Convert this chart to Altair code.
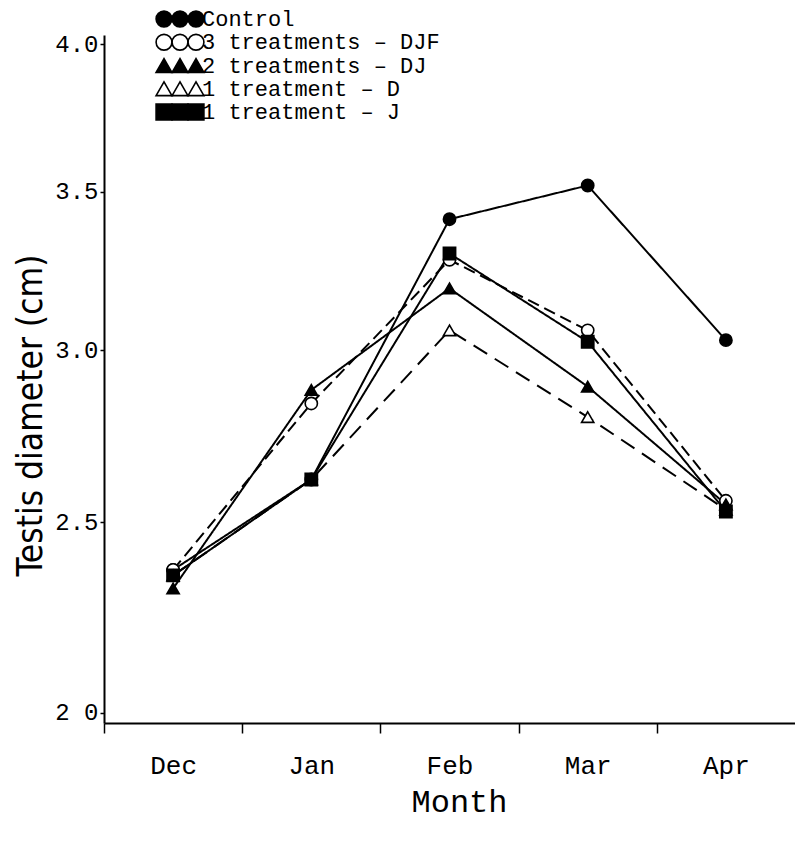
import json
import altair as alt
import pandas as pd

# ---- data ----
months = ["Dec", "Jan", "Feb", "Mar", "Apr"]
series = ["Control", "3 treatments – DJF", "2 treatments – DJ", "1 treatment – D", "1 treatment – J"]
control = [2.37, 2.62, 3.41, 3.52, 3.03]
djf = [2.37, 2.84, 3.28, 3.06, 2.56]
dj = [2.32, 2.88, 3.19, 2.89, 2.55]
d_only = [2.355, 2.62, 3.06, 2.80, 2.535]
j_only = [2.355, 2.62, 3.30, 3.025, 2.53]
y_ticks = [2.0, 2.5, 3.0, 3.5, 4.0]
y_tick_labels = ["2 0", "2.5", "3.0", "3.5", "4.0"]

# ---- styles ----
shapes = ["circle", "circle", "triangle-up", "triangle-up", "square"]
fills = ["black", "white", "black", "white", "black"]
dashes = [[1, 0], [12, 6], [1, 0], [16, 9], [1, 0]]
MONO = "Liberation Mono"

values = [control, djf, dj, d_only, j_only]
rows = []
for s, vals in zip(series, values):
    for i, (m, v) in enumerate(zip(months, vals)):
        rows.append({"series": s, "idx": i, "month": m, "value": v})
df = pd.DataFrame(rows)
leg = pd.DataFrame({"series": series, "row": list(range(len(series)))})

W, H = 691, 688
x_enc = alt.X(
    "idx:Q",
    scale=alt.Scale(domain=[-0.5, len(months) - 0.5], nice=False, zero=False),
    axis=alt.Axis(
        values=[i - 0.5 for i in range(len(months))],
        labelExpr=json.dumps(months) + "[round(datum.value + 0.5)]",
        labelOffset=W / len(months) / 2,
        labelFlush=False,
        labelFont=MONO, labelFontSize=26, labelColor="black", labelPadding=19,
        tickSize=10, tickColor="black", tickWidth=1.5, tickOffset=0,
        domainColor="black", domainWidth=2,
        title="Month", titleFont=MONO, titleFontSize=32, titleFontWeight="normal",
        titleColor="black", titleX=355, titleY=78, titleBaseline="middle",
        grid=False,
    ),
)
y_enc = alt.Y(
    "value:Q",
    scale=alt.Scale(type="sqrt", domain=[1.975, 4.032], nice=False, zero=False),
    axis=alt.Axis(
        values=y_ticks,
        labelExpr="indexof(" + json.dumps(y_ticks) + ", datum.value) >= 0 ? "
        + json.dumps(y_tick_labels) + "[indexof(" + json.dumps(y_ticks) + ", datum.value)] : ''",
        labelFont=MONO, labelFontSize=24, labelColor="black", labelPadding=2,
        tickSize=4, tickColor="black", tickWidth=1.5,
        domainColor="black", domainWidth=2,
        title="Testis diameter (cm)", titleFont="Liberation Sans Narrow, DejaVu Sans Condensed, sans-serif",
        titleFontSize=35, titleFontWeight="normal", titleColor="black",
        titleX=-74, titleY=H / 2 + 36, titleBaseline="middle", titleAngle=-90,
        grid=False,
    ),
)

shape_scale = alt.Scale(domain=series, range=shapes)
fill_scale = alt.Scale(domain=series, range=fills)
dash_scale = alt.Scale(domain=series, range=dashes)

lines = alt.Chart(df).mark_line(color="black", strokeWidth=2).encode(
    x=x_enc, y=y_enc,
    detail="series:N",
    strokeDash=alt.StrokeDash("series:N", scale=dash_scale, legend=None),
)
points = alt.Chart(df).mark_point(filled=False, stroke="black", strokeWidth=1.6, size=150, opacity=1).encode(
    x=alt.X("idx:Q"), y=alt.Y("value:Q"),
    shape=alt.Shape("series:N", scale=shape_scale, legend=None),
    fill=alt.Fill("series:N", scale=fill_scale, legend=None),
)

# custom legend (three symbols + label per row) above the plot
leg_y = alt.Y("row:Q", scale=alt.Scale(domain=[0, len(series) - 1], range=[-16, 77]), axis=None)
legend_layers = []
for px in [60, 76, 92]:
    legend_layers.append(
        alt.Chart(leg).mark_point(filled=False, stroke="black", strokeWidth=1.6, size=250, opacity=1).encode(
            x=alt.value(px), y=leg_y,
            shape=alt.Shape("series:N", scale=shape_scale, legend=None),
            fill=alt.Fill("series:N", scale=fill_scale, legend=None),
        )
    )
legend_text = alt.Chart(leg).mark_text(
    align="left", baseline="middle", font=MONO, fontSize=22, color="black"
).encode(x=alt.value(98), y=leg_y, text="series:N")

main = alt.layer(lines, points)
legend = alt.layer(*legend_layers, legend_text)

chart = alt.layer(main, legend).resolve_scale(y="independent").properties(
    width=W, height=H,
    padding={"left": 96, "top": 27, "right": 0, "bottom": 110},
    autosize=alt.AutoSizeParams(type="none"),
    background="white",
).configure_view(stroke=None)

chart.save("out.html", embed_options={"renderer": "svg", "actions": False})
